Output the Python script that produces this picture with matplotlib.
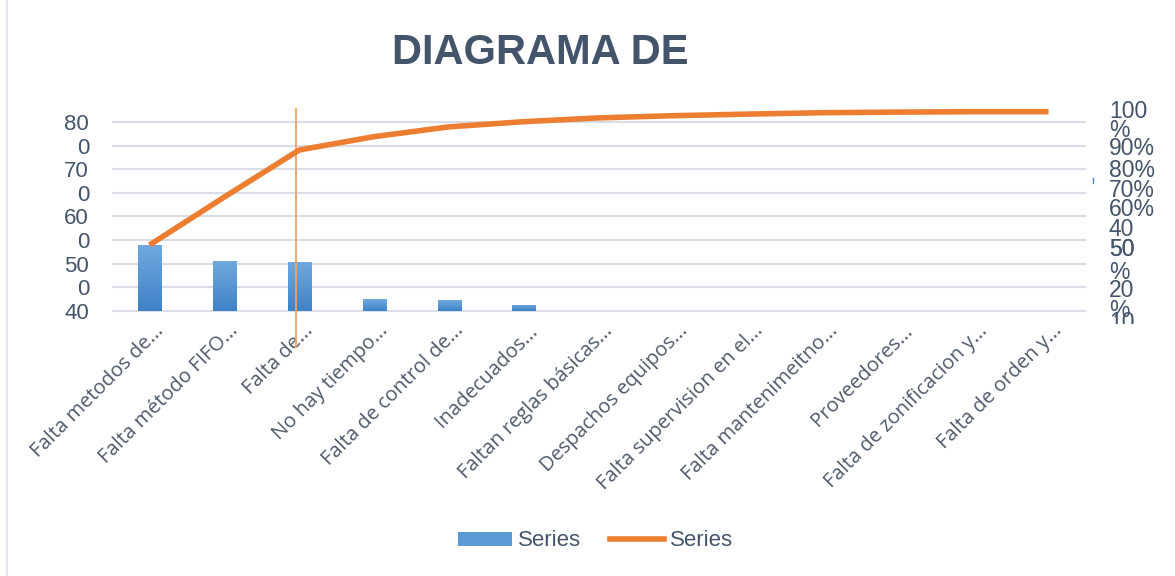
import matplotlib
matplotlib.use('Agg')
import matplotlib.pyplot as plt
import numpy as np
from matplotlib.transforms import Bbox, TransformedBbox, ScaledTranslation
from matplotlib.patches import Patch
from matplotlib.lines import Line2D
from matplotlib.colors import LinearSegmentedColormap

# ---------------- data ----------------
categories = ["Falta metodos de...", "Falta método FIFO...", "Falta de...",
              "No hay tiempo...", "Falta de control de...", "Inadecuados...",
              "Faltan reglas básicas...", "Despachos equipos...",
              "Falta supervision en el...", "Falta mantenimeitno...",
              "Proveedores...", "Falta de zonificacion y...", "Falta de orden y..."]
bar_values = [140, 106, 104, 25, 23, 13, 0, 0, 0, 0, 0, 0, 0]
cum_pct = [33.1, 57.2, 80.8, 87.5, 92.4, 95.0, 96.9, 98.0, 98.8, 99.5, 99.8, 100.0, 100.0]

left_ticks = [400, 350, 300, 250, 200, 150, 100, 50, 0]
left_labels = ["80", "0", "70", "0", "60", "0", "50", "0", "40"]
left_cut_tick, left_cut_label = -46.6, "0"

right_ticks = [101.4, 91.8, 82.8, 71.8, 61.7, 52.2, 42.2, 32.1, 32.1, 20.6, 11.5, 1.5]
right_labels = ["100", "%", "90%", "80%", "70%", "60%", "40", "30", "50", "%", "20", "%"]
right_cut_tick, right_cut_label = -6.0, "10"

title = "DIAGRAMA DE"
legend_labels = ["Series", "Series"]

# ---------------- style ----------------
W, H, DPI = 1175, 576, 100
TXT = '#44546a'
ORANGE = '#ed7d31'
GRID = '#d9dde6'
plt.rcParams['font.family'] = ['Liberation Sans', 'DejaVu Sans']

fig = plt.figure(figsize=(W / DPI, H / DPI), dpi=DPI)
fig.patch.set_facecolor('white')

def fx(px):
    return px / W

def fy(py):
    return 1 - py / H

ax_left, ax_right, ax_top, ax_bot = 112, 1086, 100, 325
ax = fig.add_axes([fx(ax_left), fy(ax_bot), fx(ax_right - ax_left), (ax_bot - ax_top) / H])
ax2 = ax.twinx()

x = np.arange(len(categories))
bw = 0.31
bars = ax.bar(x, bar_values, width=bw, color='#5b9bd5', zorder=2)

# vertical gradient on bars
cmap = LinearSegmentedColormap.from_list('g', ['#3f82c7', '#72a9df'])
grad = np.linspace(0, 1, 256).reshape(-1, 1)
for b, v in zip(bars, bar_values):
    if v <= 0:
        continue
    x0 = b.get_x()
    im = ax.imshow(grad, cmap=cmap, origin='lower', aspect='auto',
                   extent=[x0, x0 + bw, 0, v], zorder=2.1)
    im.set_clip_path(b)

# limits: 0 at px 311, 400 at px 122 (left); 0% at 311, 100% at 111.7 (right)
lscale = 400 / 189.0
ax.set_ylim((311 - ax_bot) * lscale, (311 - ax_top) * lscale)
rscale = 100 / 199.3
ax2.set_ylim((311 - ax_bot) * rscale, (311 - ax_top) * rscale)
ax.set_xlim(-0.5, len(categories) - 0.5)

ax.set_yticks(left_ticks)
ax.set_yticklabels(left_labels)
ax.grid(axis='y', color=GRID, lw=1.5, zorder=0)
ax.set_axisbelow(True)
ax.tick_params(axis='y', length=0, pad=16.5, labelsize=16, labelcolor=TXT)

ax2.set_yticks(right_ticks)
ax2.set_yticklabels(right_labels)
ax2.tick_params(axis='y', length=0, pad=16.5, labelsize=16.5, labelcolor=TXT)

ax.set_xticks(x)
ax.set_xticklabels(categories, rotation=45, ha='right', va='center',
                   rotation_mode='anchor', fontsize=14.5, family='Open Sans',
                   color='#505a6a')
ax.tick_params(axis='x', length=0, pad=2)
off = ScaledTranslation(11 / DPI, 0, fig.dpi_scale_trans)
for lab in ax.get_xticklabels():
    lab.set_transform(lab.get_transform() + off)

for s in ax.spines.values():
    s.set_visible(False)
for s in ax2.spines.values():
    s.set_visible(False)

# cumulative line
ax2.plot(x, cum_pct, color=ORANGE, lw=4, solid_capstyle='butt', zorder=3)

# thin vertical marker line
ax.plot([1.96, 1.96], [(311 - 109) * lscale, (311 - 347) * lscale],
        color='#f2a160', lw=1.3, clip_on=False, zorder=4)

# clipped partial labels
clip = TransformedBbox(Bbox.from_extents(0, fy(324), 1, 1), fig.transFigure)
t1 = ax.text(0, left_cut_tick, left_cut_label, ha='right', va='center',
             fontsize=16, color=TXT,
             transform=ax.get_yaxis_transform() + ScaledTranslation(-23 / DPI, 0, fig.dpi_scale_trans))
t2 = ax2.text(1, right_cut_tick, right_cut_label, ha='left', va='center',
              fontsize=16.5, color=TXT,
              transform=ax2.get_yaxis_transform() + ScaledTranslation(23 / DPI, 0, fig.dpi_scale_trans))
for t in (t1, t2):
    t.set_clip_box(clip)
    t.set_clip_on(True)

# title
fig.text(fx(540), fy(53), title, ha='center', va='center', fontsize=30,
         fontweight='bold', color=TXT)

# legend
handles = [Patch(facecolor='#5b9bd5', edgecolor='none'),
           Line2D([], [], color=ORANGE, lw=4)]
fig.legend(handles, legend_labels, loc='center', bbox_to_anchor=(fx(596), fy(541)),
           ncol=2, frameon=False, fontsize=16, handlelength=2.4, handleheight=0.6,
           handletextpad=0.3, columnspacing=1.3, labelcolor=TXT)

# small artifacts: chart border on left, tiny blue tick
fig.add_artist(Line2D([fx(7), fx(7)], [0, 1], color='#dde3ea', lw=1.2))
fig.add_artist(Line2D([fx(1093), fx(1093)], [fy(178), fy(183)], color='#4a86c8', lw=1))

fig.savefig('out.png', dpi=DPI)
